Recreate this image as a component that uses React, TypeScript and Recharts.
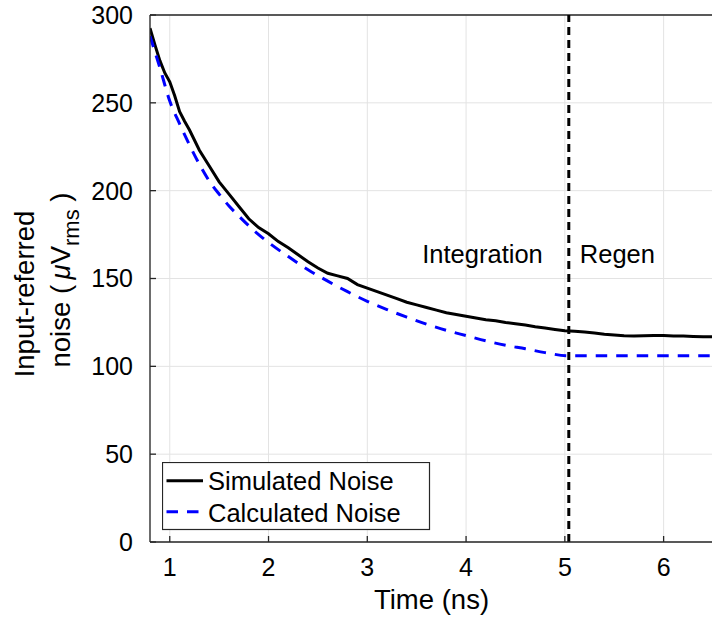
import { CartesianGrid, Line, LineChart, ReferenceLine, XAxis, YAxis } from "recharts";

// simulated noise (black, solid)
const simTime = [
  0.8, 0.85, 0.9, 0.95, 1.0, 1.05, 1.1, 1.15, 1.2, 1.3, 1.4, 1.5, 1.6, 1.7, 1.8, 1.9, 2.0, 2.1, 2.2, 2.3, 2.4,
  2.5, 2.6, 2.7, 2.8, 2.9, 3.0, 3.1, 3.2, 3.3, 3.4, 3.5, 3.6, 3.7, 3.8, 3.9, 4.0, 4.1, 4.2, 4.3, 4.4, 4.5, 4.6,
  4.7, 4.8, 4.9, 5.0, 5.1, 5.2, 5.3, 5.4, 5.5, 5.6, 5.7, 5.8, 5.9, 6.0, 6.1, 6.2, 6.3, 6.4, 6.5,
];
const simNoise = [
  292.5, 283, 274, 267, 262, 254, 245, 239.5, 234.5, 223, 214, 205, 198, 191, 184, 179, 175.5, 171, 167.5,
  163.5, 159.5, 156, 153, 151.5, 150, 146.5, 144.5, 142.5, 140.5, 138.5, 136.5, 135, 133.5, 132, 130.5, 129.5,
  128.5, 127.5, 126.5, 126, 125, 124.2, 123.5, 122.5, 121.8, 121, 120.3, 120, 119.5, 119, 118.3, 117.8, 117.4,
  117.3, 117.4, 117.5, 117.5, 117.3, 117.2, 117, 116.9, 116.8,
];

// calculated noise (blue, dashed)
const calcTime = [
  0.8, 0.9, 1.0, 1.1, 1.2, 1.3, 1.4, 1.5, 1.6, 1.7, 1.8, 1.9, 2.0, 2.2, 2.4, 2.6, 2.8, 3.0, 3.2, 3.4, 3.6, 3.8,
  4.0, 4.2, 4.4, 4.6, 4.8, 5.04, 6.5,
];
const calcNoise = [
  288, 270, 251, 238, 226, 215, 205.5, 198, 191.3, 185.5, 180, 175, 170.5, 162.5, 155, 148.5, 142.5, 137, 132.3,
  128, 124, 120.5, 117.5, 114.5, 112, 110, 107.8, 106, 106,
];

const seriesNames = ["Simulated Noise", "Calculated Noise"];
const xTicks = [1, 2, 3, 4, 5, 6];
const yTicks = [0, 50, 100, 150, 200, 250, 300];
const regenStart = 5.04;

const simData = simTime.map((t, i) => ({ t, v: simNoise[i] }));
const calcData = calcTime.map((t, i) => ({ t, v: calcNoise[i] }));

const FONT = "'Liberation Sans', Arial, Helvetica, sans-serif";
const AXIS = "#262626";

function YLabel() {
  return (
    <g fontFamily={FONT} fill="#000" fontSize={27.5}>
      <text x={33.5} y={294} textAnchor="middle" transform="rotate(-90 33.5 294)">
        Input-referred
      </text>
      <text x={70} y={280} textAnchor="middle" transform="rotate(-90 70 280)">
        noise ({"\u2009"}
        <tspan fontStyle="italic">μ</tspan>V
        <tspan fontSize={22} dy={9}>
          rms
        </tspan>
        <tspan dy={-9}> )</tspan>
      </text>
    </g>
  );
}

function XLabel(props: any) {
  const vb = props.viewBox || {};
  return (
    <text x={vb.x + vb.width / 2} y={608.5} textAnchor="middle" fontFamily={FONT} fontSize={27.5} fill="#000">
      Time (ns)
    </text>
  );
}

function PhaseLabels(props: any) {
  const vb = props.viewBox || {};
  const y = vb.y + 248;
  return (
    <g fontFamily={FONT} fontSize={25.5} fill="#000">
      <text x={vb.x - 26} y={y} textAnchor="end">
        Integration
      </text>
      <text x={vb.x + 11} y={y} textAnchor="start">
        Regen
      </text>
    </g>
  );
}

function LegendBox() {
  return (
    <svg width={269} height={69} style={{ position: "absolute", left: 162, top: 462 }}>
      <rect x={0.5} y={0.5} width={267} height={67} fill="#fff" stroke={AXIS} strokeWidth={1.2} />
      <line x1={4.5} x2={41} y1={18.7} y2={18.7} stroke="#000" strokeWidth={3} />
      <line x1={4.5} x2={38} y1={49.7} y2={49.7} stroke="#0000ff" strokeWidth={3} strokeDasharray="11.5 9" />
      <text x={46} y={28} fontFamily={FONT} fontSize={25.5} fill="#000">
        {seriesNames[0]}
      </text>
      <text x={46} y={59.5} fontFamily={FONT} fontSize={25.5} fill="#000">
        {seriesNames[1]}
      </text>
    </svg>
  );
}

export default function App() {
  return (
    <div style={{ position: "fixed", left: 0, top: 0, width: 712, height: 618, overflow: "hidden", background: "#fff" }}>
      <LineChart width={716} height={618} margin={{ top: 15, right: 3, left: 0, bottom: 0 }}>
        <CartesianGrid stroke="#e3e3e3" strokeWidth={1} />
        <XAxis
          dataKey="t"
          type="number"
          domain={[0.8, 6.5]}
          ticks={xTicks}
          allowDataOverflow
          height={76}
          stroke={AXIS}
          strokeWidth={1.3}
          tickSize={-6}
          tickMargin={22}
          tick={{ fill: "#000", fontSize: 25, fontFamily: FONT }}
          label={<XLabel />}
        />
        <YAxis
          type="number"
          domain={[0, 300]}
          ticks={yTicks}
          width={150}
          stroke={AXIS}
          strokeWidth={1.3}
          tickSize={-6}
          tickMargin={23}
          tick={{ fill: "#000", fontSize: 25, fontFamily: FONT }}
          label={<YLabel />}
        />
        <ReferenceLine y={300} stroke={AXIS} strokeWidth={1.3} />
        <Line
          data={simData}
          dataKey="v"
          name={seriesNames[0]}
          type="linear"
          stroke="#000"
          strokeWidth={3}
          dot={false}
          isAnimationActive={false}
        />
        <Line
          data={calcData}
          dataKey="v"
          name={seriesNames[1]}
          type="monotone"
          stroke="#0000ff"
          strokeWidth={3}
          strokeDasharray="11.5 9"
          dot={false}
          isAnimationActive={false}
        />
        <ReferenceLine
          x={regenStart}
          stroke="#000"
          strokeWidth={3}
          strokeDasharray="8 5"
          label={<PhaseLabels />}
        />
      </LineChart>
      <LegendBox />
    </div>
  );
}
